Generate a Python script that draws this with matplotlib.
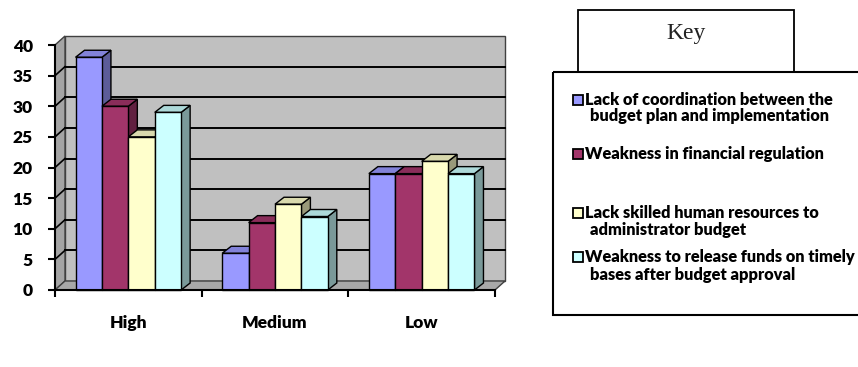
import matplotlib.pyplot as plt
from matplotlib.patches import Polygon, Rectangle
import numpy as np

categories = ["High", "Medium", "Low"]
series_labels = [
    ["Lack of coordination between the", "budget plan and implementation"],
    ["Weakness in financial regulation"],
    ["Lack skilled human resources to", "administrator budget"],
    ["Weakness to release funds on timely", "bases after budget approval"],
]
values = [
    [38, 6, 19],
    [30, 11, 19],
    [25, 14, 21],
    [29, 12, 19],
]
colors = ["#9999ff", "#a2356a", "#ffffcc", "#ccffff"]
yticks = [0, 5, 10, 15, 20, 25, 30, 35, 40]

W, H = 858, 367
plt.rcParams["font.family"] = ["Lato", "DejaVu Sans"]
fig = plt.figure(figsize=(W / 100, H / 100), dpi=100)
ax = fig.add_axes([55 / W, 77 / H, 440 / W, 245 / H])
ax.set_xlim(-0.5, 2.5)
ax.set_ylim(0, 40)


def px_to_data(dx_px, dy_px):
    # convert a pixel offset into data units
    p0 = ax.transData.transform((0, 0))
    p1 = ax.transData.inverted().transform(p0 + np.array([dx_px, dy_px]))
    return p1[0], p1[1]


def shade(c, f):
    r, g, b = plt.matplotlib.colors.to_rgb(c)
    return (r * f, g * f, b * f)


wdx, wdy = px_to_data(10, 9)
bdx, bdy = px_to_data(9, 7)
x0, x1 = ax.get_xlim()
ytop = 40

# back wall, side wall and floor
ax.add_patch(Polygon([(x0 + wdx, wdy), (x1 + wdx, wdy), (x1 + wdx, ytop + wdy), (x0 + wdx, ytop + wdy)],
                     closed=True, fc="#c0c0c0", ec="#404040", lw=1, clip_on=False, zorder=1))
ax.add_patch(Polygon([(x0, 0), (x0 + wdx, wdy), (x0 + wdx, ytop + wdy), (x0, ytop)],
                     closed=True, fc="#a4a4a4", ec="#404040", lw=1, clip_on=False, zorder=1))
ax.add_patch(Polygon([(x0, 0), (x1, 0), (x1 + wdx, wdy), (x0 + wdx, wdy)],
                     closed=True, fc="#a8a8a8", ec="#404040", lw=1, clip_on=False, zorder=2))
for y in yticks[1:-1]:
    ax.plot([x0 + wdx, x1 + wdx], [y + wdy, y + wdy], color="black", lw=1.4, zorder=1.5, clip_on=False)
    ax.plot([x0, x0 + wdx], [y, y + wdy], color="black", lw=1.2, zorder=1.5, clip_on=False)

# 3d-looking bars
bw = 0.18
n = len(values)
for ci in range(len(categories)):
    for si in range(n):
        v = values[si][ci]
        c = colors[si]
        x = ci - n * bw / 2 + si * bw
        front = [(x, 0), (x + bw, 0), (x + bw, v), (x, v)]
        side = [(x + bw, 0), (x + bw + bdx, bdy), (x + bw + bdx, v + bdy), (x + bw, v)]
        top = [(x, v), (x + bw, v), (x + bw + bdx, v + bdy), (x + bdx, v + bdy)]
        z = 3 + ci * 0.1 + si * 0.01
        ax.add_patch(Polygon(side, closed=True, fc=shade(c, 0.6), ec="black", lw=1, zorder=z, clip_on=False))
        ax.add_patch(Polygon(top, closed=True, fc=shade(c, 0.85), ec="black", lw=1, zorder=z, clip_on=False))
        ax.add_patch(Polygon(front, closed=True, fc=c, ec="black", lw=1, zorder=z, clip_on=False))

# axes styling
for s in ["top", "right"]:
    ax.spines[s].set_visible(False)
for s in ["left", "bottom"]:
    ax.spines[s].set_linewidth(1.5)
    ax.spines[s].set_zorder(10)
ax.patch.set_visible(False)
ax.set_yticks(yticks)
ax.set_yticklabels([str(t) for t in yticks], fontsize=12.5, fontweight="heavy")
ax.tick_params(axis="y", length=5, width=1.5, pad=11)
ax.set_xticks([-0.5, 0.5, 1.5, 2.5])
ax.set_xticklabels([])
ax.tick_params(axis="x", which="major", length=5, width=1.5)
ax.set_xticks(range(len(categories)), minor=True)
ax.set_xticklabels(categories, minor=True, fontsize=12.5, fontweight="heavy")
ax.tick_params(axis="x", which="minor", length=0, pad=18)

# key box and legend drawn in pixel coordinates
lax = fig.add_axes([0, 0, 1, 1])
lax.set_xlim(0, W)
lax.set_ylim(H, 0)
lax.axis("off")
lax.add_patch(Rectangle((578, 10), 216, 62, fill=False, ec="black", lw=1.3))
lax.text(686, 34, "Key", family="Liberation Serif", fontsize=17, ha="center", va="center", color="#222222")
# legend frame runs off the right edge of the figure, as in the source
lax.add_patch(Rectangle((553, 72), 400, 243, fill=False, ec="black", lw=1.5, clip_on=True))

line_y = [[100, 116], [154], [213, 230], [257, 275]]
for si, lines in enumerate(series_labels):
    y0 = line_y[si][0]
    lax.add_patch(Rectangle((573, y0 - 5), 10, 10, fc=colors[si], ec="black", lw=1.3))
    for li, txt in enumerate(lines):
        lax.text(585 if li == 0 else 590, line_y[si][li], txt, fontsize=11.8, fontweight="heavy",
                 ha="left", va="center")

fig.savefig("out.png", dpi=100)
